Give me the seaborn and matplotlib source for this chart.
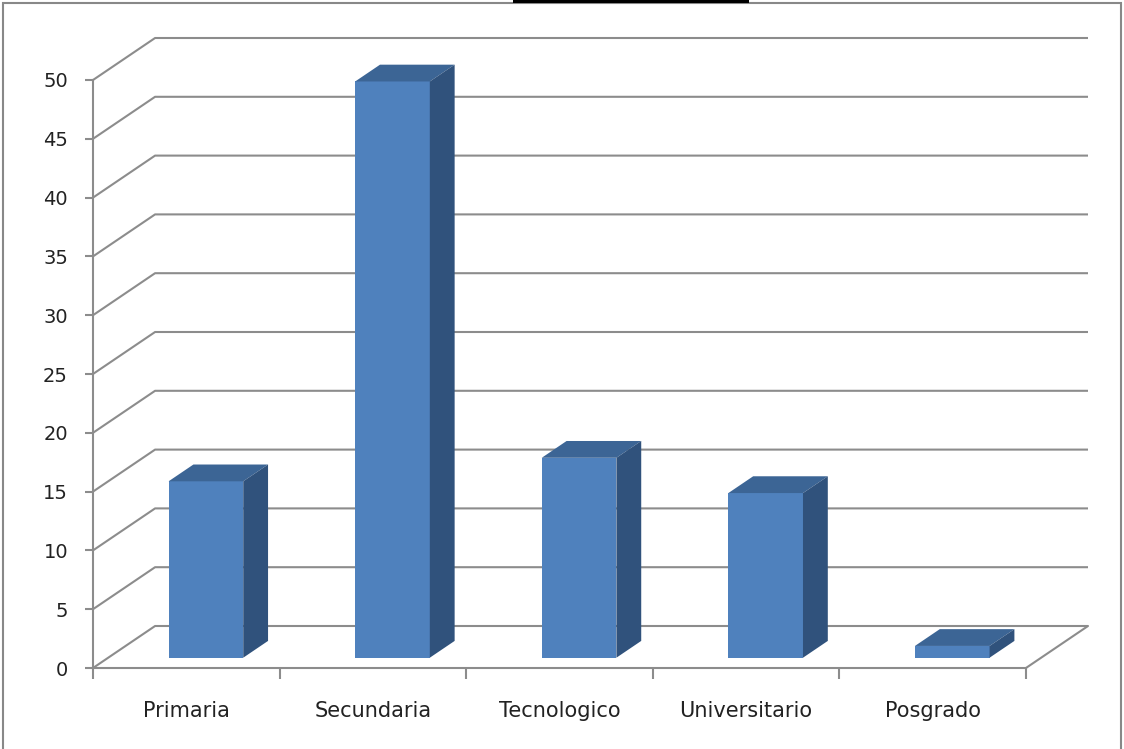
import matplotlib
matplotlib.use("Agg")
import matplotlib.pyplot as plt
from matplotlib.patches import Polygon, Rectangle
import seaborn as sns
import numpy as np

categories = ["Primaria", "Secundaria", "Tecnologico", "Universitario", "Posgrado"]
values = [15, 49, 17, 14, 1]
y_ticks = [0, 5, 10, 15, 20, 25, 30, 35, 40, 45, 50]

front_color = "#4F81BD"
top_color = "#3C6595"
side_color = "#30527C"
grid_color = "#8C8C8C"

sns.set_style("white")
plt.rcParams["font.family"] = ["DejaVu Sans"]

W, H = 1124, 749
fig = plt.figure(figsize=(W / 100, H / 100), dpi=100)

# axes in pixel terms (front plane + depth)
left, right, bottom, top = 93, 1088, 668, 38
ax = fig.add_axes([left / W, 1 - bottom / H, (right - left) / W, (bottom - top) / H])

ymax = y_ticks[-1]
px_per_unit = (bottom - 80) / ymax
px_per_cat = (1025 - left) / len(categories)
Dx = 62 / px_per_cat
Dy = 42 / px_per_unit

sns.barplot(x=categories, y=values, width=0.4, color=front_color, saturation=1,
            edgecolor="none", linewidth=0, ax=ax, zorder=3)

ax.set_xlim(-0.5, len(categories) - 0.5 + Dx)
ax.set_ylim(0, ymax + Dy)

# back wall gridlines + left wall diagonals
x0, x1 = -0.5, len(categories) - 0.5
for v in y_ticks:
    ax.plot([x0, x0 + Dx, x1 + Dx], [v, v + Dy, v + Dy], color=grid_color,
            lw=1.5, zorder=1, solid_capstyle="butt", clip_on=False)
# floor right edge
ax.plot([x1, x1 + Dx], [0, Dy], color=grid_color, lw=1.5, zorder=1, clip_on=False)

# 3D bars
fx, fy, f_depth = 0.316, 0.245, 0.40
for p in ax.patches:
    p.set_x(p.get_x() + fx * Dx)
    b = fy * Dy
    p.set_y(b)
    xl, w, h = p.get_x(), p.get_width(), p.get_height()
    ddx, ddy = f_depth * Dx, f_depth * Dy
    topq = [(xl, b + h), (xl + w, b + h), (xl + w + ddx, b + h + ddy), (xl + ddx, b + h + ddy)]
    side = [(xl + w, b), (xl + w, b + h), (xl + w + ddx, b + h + ddy), (xl + w + ddx, b + ddy)]
    ax.add_patch(Polygon(topq, closed=True, facecolor=top_color, edgecolor="none", zorder=3))
    ax.add_patch(Polygon(side, closed=True, facecolor=side_color, edgecolor="none", zorder=3))

# spines
for s in ["top", "right"]:
    ax.spines[s].set_visible(False)
for s in ["left", "bottom"]:
    ax.spines[s].set_color(grid_color)
    ax.spines[s].set_linewidth(1.5)
ax.spines["left"].set_bounds(0, ymax)
ax.spines["bottom"].set_bounds(x0, x1)

ax.set_yticks(y_ticks)
ax.set_yticklabels([str(v) for v in y_ticks])
ax.tick_params(axis="y", which="major", direction="out", length=6, width=1.5,
               color=grid_color, pad=12, labelsize=14, labelcolor="#222222", left=True)

ax.set_xticks(range(len(categories)))
ax.set_xticklabels(categories)
ax.set_xticks(np.arange(len(categories) + 1) - 0.5, minor=True)
ax.tick_params(axis="x", which="major", length=0, pad=24, labelsize=15, labelcolor="#222222")
ax.tick_params(axis="x", which="minor", direction="out", length=8, width=1.5,
               color=grid_color, bottom=True)
ax.set_xlabel("")
ax.set_ylabel("")
ax.grid(False)

# figure frame
fig.patches.append(Rectangle((3 / W, -0.1), (W - 6) / W, 1.1 - 3 / H, transform=fig.transFigure,
                             fill=False, edgecolor="#888888", lw=1.5, zorder=0))
fig.patches.append(Rectangle((513 / W, 1 - 3 / H), 236 / W, 3 / H, transform=fig.transFigure,
                             facecolor="black", edgecolor="none", zorder=1))

fig.savefig("out.png", dpi=100)
